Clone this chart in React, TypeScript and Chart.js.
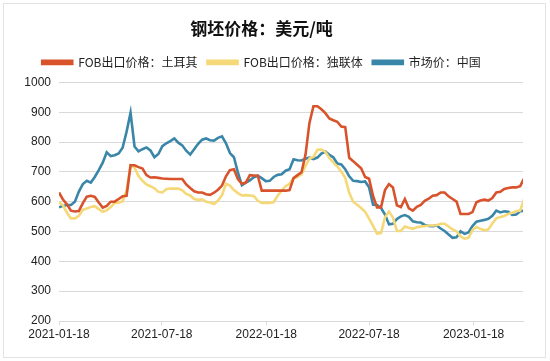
import React, { useEffect, useRef } from "react";
import { Chart, registerables } from "chart.js";

Chart.register(...registerables);

const titleText = "钢坯价格：美元/吨";
const startDate = "2021-01-18";
const endDate = "2023-04-15";
const tickLabels = ["2021-01-18", "2021-07-18", "2022-01-18", "2022-07-18", "2023-01-18"];
const seriesNames = ["FOB出口价格：土耳其", "FOB出口价格：独联体", "市场价：中国"];
const seriesColors = ["#D8532B", "#F5D878", "#3A86A8"];
const stepDays = 7;

// weekly values from 2021-01-18
const turkey = [
  631, 607, 591, 570, 567, 569, 595, 617, 620, 616,
  597, 580, 586, 600, 600, 609, 618, 620, 722, 722,
  716, 711, 689, 681, 682, 680, 678, 677, 676, 676,
  676, 676, 658, 646, 635, 631, 631, 625, 623, 630,
  640, 654, 685, 706, 709, 676, 660, 664, 689, 688,
  687, 637, 637, 637, 637, 637, 637, 637, 639, 679,
  689, 699, 757, 864, 920, 920, 910, 897, 879, 873,
  868, 852, 850, 747, 736, 724, 712, 683, 677, 619,
  581, 581, 639, 659, 648, 588, 582, 609, 578, 570,
  583, 589, 603, 610, 620, 622, 631, 631, 618, 609,
  600, 559, 559, 559, 565, 598, 604, 607, 604, 612,
  631, 633, 643, 646, 648, 648, 652, 678,
];
const cis = [
  598, 588, 563, 544, 544, 553, 573, 577, 582, 585,
  575, 566, 571, 582, 596, 597, 601, 638, 722, 714,
  686, 670, 658, 652, 645, 633, 631, 642, 644, 644,
  644, 638, 626, 621, 609, 606, 608, 600, 597, 592,
  604, 622, 660, 654, 639, 629, 621, 622, 621, 619,
  603, 596, 596, 596, 599, 620, 637, 652, 660, 678,
  683, 692, 720, 745, 750, 774, 775, 767, 747, 732,
  718, 701, 680, 630, 600, 590, 579, 566, 543, 519,
  493, 495, 548, 567, 547, 502, 502, 517, 513, 509,
  514, 517, 518, 520, 520, 521, 526, 526, 517, 507,
  501, 483, 476, 479, 505, 515, 509, 504, 507, 527,
  544, 549, 552, 559, 563, 568, 570, 609,
];
const china = [
  581, 586, 589, 589, 600, 634, 659, 670, 664, 683,
  706, 731, 766, 753, 756, 762, 781, 835, 898, 785,
  769, 776, 782, 772, 749, 760, 786, 796, 803, 812,
  798, 789, 771, 758, 776, 794, 808, 812, 806, 805,
  814, 819, 796, 763, 749, 698, 655, 664, 671, 682,
  687, 679, 669, 670, 683, 690, 692, 704, 709, 742,
  739, 738, 744, 748, 743, 748, 761, 768, 757, 749,
  728, 725, 709, 685, 670, 669, 666, 668, 648, 590,
  589, 579, 557, 524, 526, 542, 551, 555, 549, 534,
  531, 530, 522, 519, 518, 520, 510, 502, 490, 479,
  481, 501, 492, 497, 518, 533, 536, 539, 543, 553,
  570, 564, 568, 566, 556, 557, 568, 570,
];

const dayOf = (d: string) =>
  (Date.parse(d + "T00:00:00Z") - Date.parse(startDate + "T00:00:00Z")) / 86400000;

const toPoints = (vals: number[]) => vals.map((v, i) => ({ x: i * stepDays, y: v }));

const legendGap = {
  id: "legendGap",
  beforeInit(chart: any) {
    const legend = chart.legend;
    if (!legend) return;
    const origFit = legend.fit;
    legend.fit = function () {
      origFit.call(this);
      this.height += 4;
    };
  },
};

export default function App() {
  const ref = useRef<HTMLCanvasElement | null>(null);

  useEffect(() => {
    if (!ref.current) return;
    const tickDays = tickLabels.map(dayOf);
    const allSeries = [turkey, cis, china];
    const chart = new Chart(ref.current, {
      type: "line",
      data: {
        datasets: allSeries.map((vals, k) => ({
          label: seriesNames[k],
          data: toPoints(vals),
          borderColor: seriesColors[k],
          backgroundColor: seriesColors[k],
          borderWidth: 2.6,
          pointRadius: 0,
          tension: 0,
          fill: false,
        })),
      },
      plugins: [legendGap],
      options: {
        responsive: false,
        animation: false,
        layout: { padding: { left: 0, right: 27, top: 12, bottom: 4 } },
        plugins: {
          title: {
            display: true,
            text: titleText,
            color: "#111",
            font: { family: "'Noto Sans CJK SC', sans-serif", size: 17, weight: "bold" },
            padding: { top: 6, bottom: 8 },
          },
          legend: {
            display: true,
            position: "top",
            labels: {
              boxWidth: 30,
              boxHeight: 3,
              color: "#222",
              padding: 10,
              font: { family: "'Noto Sans CJK SC', sans-serif", size: 12 },
            },
          },
          tooltip: { enabled: false },
        },
        scales: {
          x: {
            type: "linear",
            min: 0,
            max: dayOf(endDate),
            afterBuildTicks: (s: any) => {
              s.ticks = tickDays.map((v) => ({ value: v }));
            },
            afterFit: (s: any) => {
              s.height = 36;
            },
            ticks: {
              autoSkip: false,
              maxRotation: 0,
              color: "#222",
              font: { family: "'Liberation Sans', Arial, sans-serif", size: 12 },
              padding: 2,
              callback: (v: any) => {
                const idx = tickDays.indexOf(Number(v));
                return idx >= 0 ? tickLabels[idx] : "";
              },
            },
            grid: {
              drawOnChartArea: false,
              drawTicks: true,
              tickLength: 4,
              color: "#d9d9d9",
            },
            border: { color: "#d9d9d9" },
          },
          y: {
            min: 200,
            max: 1000,
            afterFit: (s: any) => {
              s.width = 59;
            },
            ticks: {
              stepSize: 100,
              color: "#222",
              padding: 8,
              font: { family: "'Liberation Sans', Arial, sans-serif", size: 12 },
              callback: (v: any) => String(v),
            },
            grid: { color: "#d9d9d9", drawTicks: false },
            border: { display: false },
          },
        },
      },
    });
    return () => chart.destroy();
  }, []);

  return (
    <div style={{ position: "fixed", left: 0, top: 0, width: 550, height: 361, background: "#fff" }}>
      <div
        style={{
          position: "absolute",
          left: 3,
          top: 3,
          width: 541,
          height: 353,
          border: "1px solid #e3e3e3",
        }}
      />
      <canvas ref={ref} width={550} height={361} style={{ position: "absolute", left: 0, top: 0 }} />
    </div>
  );
}
